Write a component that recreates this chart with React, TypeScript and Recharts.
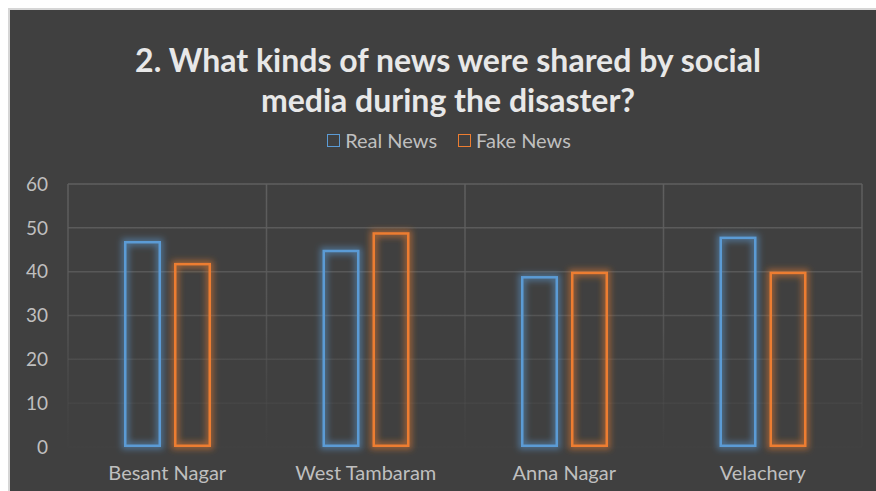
import { BarChart, Bar, XAxis, YAxis, CartesianGrid } from 'recharts';

const areas = ['Besant Nagar', 'West Tambaram', 'Anna Nagar', 'Velachery'];
const realNews = [47, 45, 39, 48];
const fakeNews = [42, 49, 40, 40];
const yTicks = [0, 10, 20, 30, 40, 50, 60];

const data = areas.map((area, i) => ({ area, real: realNews[i], fake: fakeNews[i] }));

const BLUE = '#5b9bd5';
const ORANGE = '#ed7d31';
const FONT = 'Lato, "Open Sans", sans-serif';

const glowBar = (color: string, filterId: string) => (props: any) => {
  const { x, y, width, height } = props;
  if (!height || height <= 0) return <g />;
  return (
    <g>
      <rect
        x={x + 1.25}
        y={y + 1.25}
        width={width - 2.5}
        height={height - 2.5}
        fill="none"
        stroke={color}
        strokeWidth={7}
        strokeOpacity={0.55}
        filter={`url(#${filterId})`}
      />
      <rect
        x={x + 1.25}
        y={y + 1.25}
        width={width - 2.5}
        height={height - 2.5}
        fill="none"
        stroke={color}
        strokeWidth={2.5}
      />
    </g>
  );
};

function Legend() {
  const item = (label: string, color: string) => (
    <div style={{ display: 'flex', alignItems: 'center', gap: 5 }}>
      <div style={{ width: 11, height: 11, border: `1.5px solid ${color}` }} />
      <span>{label}</span>
    </div>
  );
  return (
    <div
      style={{
        position: 'absolute',
        top: 118,
        left: 6,
        width: 866,
        display: 'flex',
        justifyContent: 'center',
        gap: 21,
        fontFamily: FONT,
        fontSize: 20,
        color: '#bfbfbf',
        lineHeight: '24px',
      }}
    >
      {item('Real News', BLUE)}
      {item('Fake News', ORANGE)}
    </div>
  );
}

export default function App() {
  return (
    <div
      style={{
        position: 'absolute',
        left: 8,
        top: 8,
        width: 866,
        height: 481,
        background: '#404040',
        borderLeft: '2px solid #d6d6d6',
        borderTop: '2px solid #d6d6d6',
        overflow: 'hidden',
      }}
    >
      <div
        style={{
          position: 'absolute',
          top: 30,
          left: 5,
          width: 866,
          textAlign: 'center',
          fontFamily: FONT,
          fontWeight: 700,
          fontSize: 32,
          lineHeight: '40px',
          color: '#e8e8e8',
        }}
      >
        2. What kinds of news were shared by social
        <br />
        media during the disaster?
      </div>
      <Legend />
      <BarChart
        width={866}
        height={481}
        data={data}
        margin={{ top: 174, right: 14, left: 8, bottom: 14 }}
        barSize={37}
        barGap={13}
        style={{ position: 'absolute', left: 0, top: 0 }}
      >
        <defs>
          <linearGradient id="gridFade" gradientUnits="userSpaceOnUse" x1="0" y1="174" x2="0" y2="437">
            <stop offset="0%" stopColor="#5f5f5f" stopOpacity={1} />
            <stop offset="55%" stopColor="#5a5a5a" stopOpacity={0.75} />
            <stop offset="100%" stopColor="#4a4a4a" stopOpacity={0.1} />
          </linearGradient>
          <filter id="glowBlue" x="-50%" y="-20%" width="200%" height="140%">
            <feGaussianBlur stdDeviation="3" />
          </filter>
          <filter id="glowOrange" x="-50%" y="-20%" width="200%" height="140%">
            <feGaussianBlur stdDeviation="3" />
          </filter>
        </defs>
        <CartesianGrid
          stroke="url(#gridFade)"
          strokeWidth={1.5}
          verticalCoordinatesGenerator={({ offset }: any) =>
            [0, 1, 2, 3, 4].map((i) => offset.left + (i * offset.width) / areas.length)
          }
        />
        <XAxis
          dataKey="area"
          axisLine={false}
          tickLine={false}
          tickSize={0}
          tickMargin={19}
          height={30}
          tick={{ fill: '#bfbfbf', fontSize: 20, fontFamily: FONT }}
        />
        <YAxis
          domain={[0, 60]}
          ticks={yTicks}
          axisLine={false}
          tickLine={false}
          tickSize={0}
          tickMargin={20}
          width={50}
          tick={{ fill: '#bfbfbf', fontSize: 19, fontFamily: FONT }}
        />
        <Bar
          dataKey="real"
          name="Real News"
          fill="none"
          isAnimationActive={false}
          shape={glowBar(BLUE, 'glowBlue')}
        />
        <Bar
          dataKey="fake"
          name="Fake News"
          fill="none"
          isAnimationActive={false}
          shape={glowBar(ORANGE, 'glowOrange')}
        />
      </BarChart>
    </div>
  );
}
